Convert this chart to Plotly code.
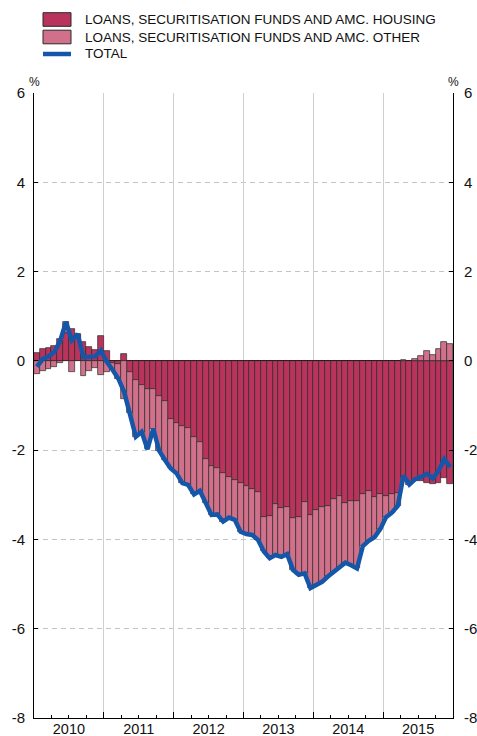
import plotly.graph_objects as go

# Monthly contributions (percentage points), Jan 2010 - Dec 2015
years = [2010, 2011, 2012, 2013, 2014, 2015]
months = [f"{y}-{m:02d}" for y in years for m in range(1, 13)]

housing = [
    0.17, 0.26, 0.28, 0.33, 0.50, 0.62, 0.72, 0.55, 0.43, 0.30, 0.25, 0.55,
    0.22, -0.05, -0.08, 0.15, -0.24, -0.43, -0.54, -0.64, -0.64, -0.79, -0.91, -1.31,
    -1.40, -1.47, -1.51, -1.70, -1.82, -2.20, -2.35, -2.39, -2.52, -2.61, -2.67, -2.74,
    -2.81, -2.87, -2.94, -3.49, -3.47, -3.21, -3.29, -3.27, -3.53, -3.50, -3.17, -3.45,
    -3.35, -3.27, -3.25, -3.09, -3.02, -3.19, -3.14, -3.14, -2.99, -2.91, -3.05, -2.99,
    -3.03, -2.98, -2.95, -2.60, -2.72, -2.70, -2.70, -2.74, -2.76, -2.73, -2.62, -2.76,
]
other = [
    -0.30, -0.22, -0.18, -0.13, -0.05, 0.25, -0.26, 0.05, -0.35, -0.22, -0.15, -0.32,
    -0.24, -0.15, -0.32, -0.85, -0.93, -1.27, -1.05, -1.34, -0.88, -1.22, -1.31, -1.10,
    -1.12, -1.27, -1.27, -1.29, -1.09, -0.99, -1.10, -1.05, -1.08, -0.90, -0.89, -1.09,
    -1.07, -1.03, -1.07, -0.78, -0.95, -1.14, -1.10, -1.06, -1.15, -1.29, -1.59, -1.64,
    -1.68, -1.68, -1.58, -1.63, -1.60, -1.33, -1.44, -1.51, -1.16, -1.12, -0.90, -0.78,
    -0.47, -0.42, -0.30, 0.03, -0.05, 0.05, 0.10, 0.21, 0.13, 0.26, 0.42, 0.38,
]
total = [
    -0.13, 0.04, 0.10, 0.20, 0.45, 0.87, 0.46, 0.60, 0.08, 0.08, 0.10, 0.23,
    -0.02, -0.20, -0.40, -0.70, -1.17, -1.70, -1.59, -1.98, -1.52, -2.01, -2.22, -2.41,
    -2.52, -2.74, -2.78, -2.99, -2.91, -3.19, -3.45, -3.44, -3.60, -3.51, -3.56, -3.83,
    -3.88, -3.90, -4.01, -4.27, -4.42, -4.35, -4.39, -4.33, -4.68, -4.79, -4.76, -5.09,
    -5.03, -4.95, -4.83, -4.72, -4.62, -4.52, -4.58, -4.65, -4.15, -4.03, -3.95, -3.77,
    -3.50, -3.40, -3.25, -2.57, -2.77, -2.65, -2.60, -2.53, -2.63, -2.47, -2.20, -2.38,
]

y_ticks = [6, 4, 2, 0, -2, -4, -6, -8]
y_tick_text = ["6", "4", "2", "0", "-2", "-4", "-6", "-8"]

names = [
    "LOANS, SECURITISATION FUNDS AND AMC. HOUSING",
    "LOANS, SECURITISATION FUNDS AND AMC. OTHER",
    "TOTAL",
]

FONT = "Liberation Sans, Arial, Helvetica, sans-serif"
C_HOUSING = "#b9335c"
C_OTHER = "#d0708a"
C_TOTAL = "#1457a8"
C_EDGE = "#2a2a2a"
C_TEXT = "#111111"

W, H = 477, 736
M_L, M_R, M_T, M_B = 34, 24, 93, 18

x = list(range(len(months)))
x_range = [-0.5, len(months) - 0.5]

# year label at the middle of each year's months, boundaries between years,
# quarter marks inside each year
year_of = [int(m[:4]) for m in months]
month_of = [int(m[5:]) for m in months]
year_centers = [sum(i for i in x if year_of[i] == y) / 12 for y in years]
year_bounds = [i - 0.5 for i in x if month_of[i] == 1 and i > 0]
quarter_bounds = [i - 0.5 for i in x if month_of[i] in (4, 7, 10)]

fig = go.Figure()
fig.add_trace(go.Bar(
    x=x, y=housing, name=names[0], customdata=months, showlegend=False,
    marker=dict(color=C_HOUSING, line=dict(color=C_EDGE, width=0.7)),
    hovertemplate="%{customdata}: %{y:.2f}<extra></extra>",
))
fig.add_trace(go.Bar(
    x=x, y=other, name=names[1], customdata=months, showlegend=False,
    marker=dict(color=C_OTHER, line=dict(color=C_EDGE, width=0.7)),
    hovertemplate="%{customdata}: %{y:.2f}<extra></extra>",
))
fig.add_trace(go.Scatter(
    x=x, y=total, name=names[2], mode="lines", customdata=months, showlegend=False,
    line=dict(color=C_TOTAL, width=4.5),
    hovertemplate="%{customdata}: %{y:.2f}<extra></extra>",
))
# companion trace holding the right-hand axis and the year-boundary axis
fig.add_trace(go.Scatter(
    x=x, y=total, xaxis="x2", yaxis="y2", mode="lines",
    line=dict(width=0), opacity=0, showlegend=False, hoverinfo="skip",
))


# legend block above the plot, laid out in pixels and converted to paper units
def px_x(px):
    return (px - M_L) / (W - M_L - M_R)


def px_y(py):
    return (H - M_B - py) / (H - M_T - M_B)


legend_rows = [
    dict(kind="box", color=C_HOUSING, y=19.5),
    dict(kind="box", color=C_OTHER, y=37),
    dict(kind="line", color=C_TOTAL, y=54),
]
sw_x0, sw_x1, text_x = 43, 71, 83
shapes, annotations = [], []
for row, label in zip(legend_rows, names):
    if row["kind"] == "box":
        shapes.append(dict(
            type="rect", xref="paper", yref="paper",
            x0=px_x(sw_x0), x1=px_x(sw_x1),
            y0=px_y(row["y"] - 6.8), y1=px_y(row["y"] + 6.8),
            fillcolor=row["color"], line=dict(color=C_EDGE, width=1),
        ))
    else:
        shapes.append(dict(
            type="line", xref="paper", yref="paper",
            x0=px_x(sw_x0), x1=px_x(sw_x1),
            y0=px_y(row["y"]), y1=px_y(row["y"]),
            line=dict(color=row["color"], width=4.5),
        ))
    annotations.append(dict(
        text=label, xref="paper", yref="paper",
        x=px_x(text_x), y=px_y(row["y"]), xanchor="left", yanchor="middle",
        showarrow=False, font=dict(family=FONT, size=13.5, color=C_TEXT),
    ))

for side in (0, 1):
    annotations.append(dict(
        text="%", xref="paper", yref="paper", x=side, y=1,
        xanchor="center", yanchor="middle", yshift=11, showarrow=False,
        font=dict(family=FONT, size=12, color=C_TEXT),
    ))

axis_font = dict(family=FONT, size=15, color=C_TEXT)

fig.update_layout(
    template="none",
    width=W, height=H,
    margin=dict(l=M_L, r=M_R, t=M_T, b=M_B, autoexpand=False),
    paper_bgcolor="white", plot_bgcolor="white",
    barmode="relative", bargap=0,
    font=dict(family=FONT, color=C_TEXT),
    showlegend=False,
    xaxis=dict(
        range=x_range, tickvals=year_centers, ticktext=[str(y) for y in years],
        ticks="", showgrid=False, zeroline=False,
        showline=True, linecolor="black", linewidth=1,
        tickfont=dict(family=FONT, size=14.5, color=C_TEXT),
        ticklabelstandoff=-2, automargin=False,
    ),
    xaxis2=dict(
        overlaying="x", anchor="y", side="bottom", range=x_range,
        tickvals=year_bounds, ticks="inside", ticklen=6, tickcolor="black",
        showticklabels=False, showgrid=True, gridcolor="#cfcfcf", gridwidth=1,
        zeroline=False, showline=False, automargin=False,
        minor=dict(tickvals=quarter_bounds, ticks="inside", ticklen=3,
                   tickcolor="black", showgrid=False),
    ),
    yaxis=dict(
        range=[-8, 6], tickvals=y_ticks, ticktext=y_tick_text,
        ticks="inside", ticklen=4, tickcolor="black",
        showline=True, linecolor="black", linewidth=1,
        showgrid=True, gridcolor="#c4c4c4", gridwidth=1, griddash="5px,4px",
        zeroline=True, zerolinecolor="black", zerolinewidth=1,
        tickfont=axis_font, ticklabelstandoff=5, automargin=False,
    ),
    yaxis2=dict(
        overlaying="y", anchor="x", side="right", range=[-8, 6],
        tickvals=y_ticks, ticktext=y_tick_text,
        ticks="inside", ticklen=4, tickcolor="black",
        showline=True, linecolor="black", linewidth=1,
        showgrid=False, zeroline=False,
        tickfont=axis_font, ticklabelstandoff=7, automargin=False,
    ),
    shapes=shapes,
    annotations=annotations,
)

fig.write_html("out.html")
